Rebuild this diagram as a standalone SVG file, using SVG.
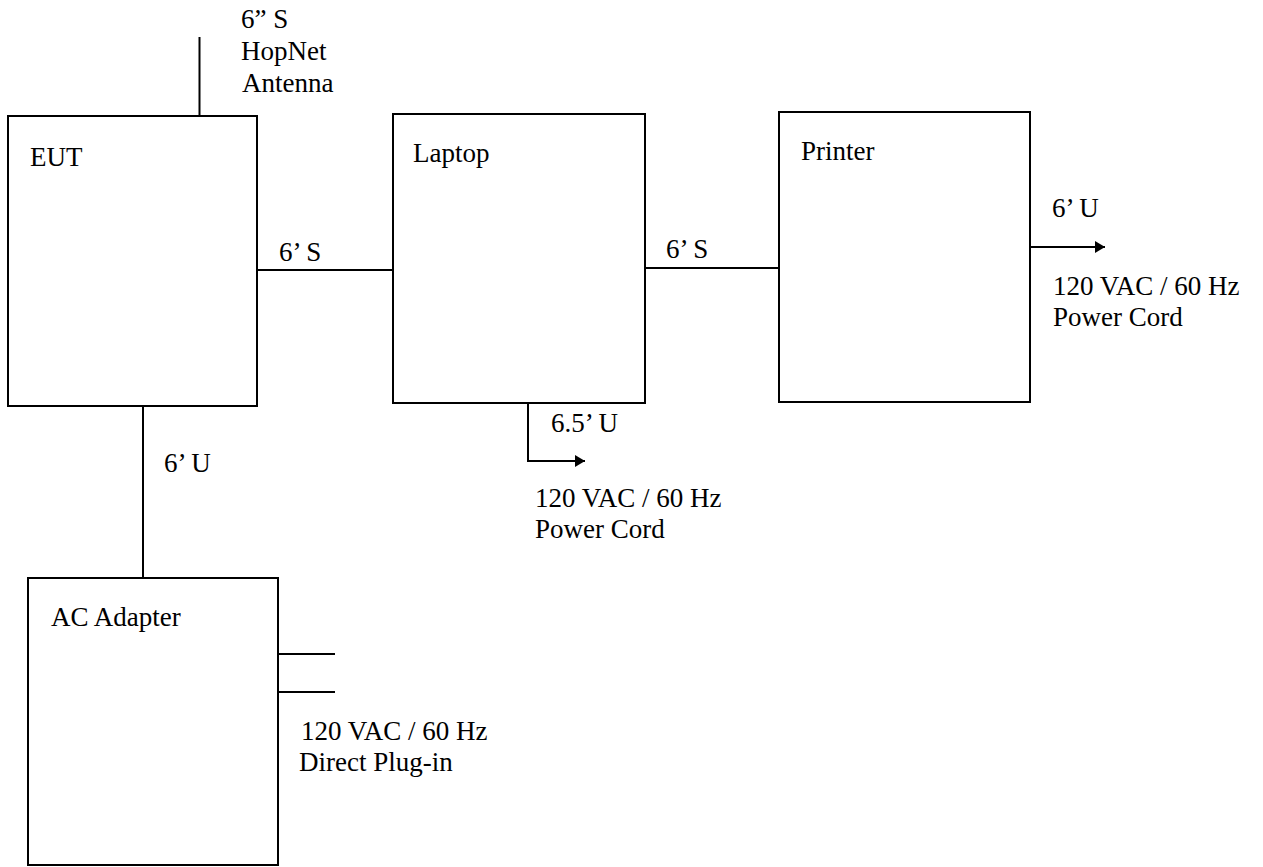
<svg xmlns="http://www.w3.org/2000/svg" width="1263" height="867" viewBox="0 0 1263 867">
<style>
.box{fill:none;stroke:#000;stroke-width:2}
.ln{fill:none;stroke:#000;stroke-width:2}
text{font-family:"Liberation Serif","Times New Roman",serif;font-size:27px;fill:#000}
</style>
<defs>
<marker id="arr" markerUnits="userSpaceOnUse" markerWidth="12" markerHeight="12" refX="10" refY="6" orient="auto">
<path d="M0,0 L10,6 L0,12 Z" fill="#000"/>
</marker>
</defs>
<rect width="1263" height="867" fill="#fff"/>
<g id="connectors">
<line class="ln" x1="199.5" y1="37" x2="199.5" y2="116"/>
<line class="ln" x1="257" y1="270" x2="393" y2="270"/>
<line class="ln" x1="645" y1="268" x2="779" y2="268"/>
<line class="ln" x1="143" y1="406" x2="143" y2="578"/>
<polyline class="ln" points="528,403 528,461 585,461" marker-end="url(#arr)"/>
<line class="ln" x1="1030" y1="247" x2="1105" y2="247" marker-end="url(#arr)"/>
<line class="ln" x1="278" y1="654" x2="335" y2="654"/>
<line class="ln" x1="278" y1="692" x2="335" y2="692"/>
</g>
<g id="antenna-label">
<text x="241" y="28">6” S</text>
<text x="241" y="60">HopNet</text>
<text x="242" y="92">Antenna</text>
</g>
<g id="eut">
<rect class="box" x="8" y="116" width="249" height="290"/>
<text x="30" y="166">EUT</text>
</g>
<g id="laptop">
<rect class="box" x="393" y="114" width="252" height="289"/>
<text x="413" y="162">Laptop</text>
</g>
<g id="printer">
<rect class="box" x="779" y="112" width="251" height="290"/>
<text x="801" y="160">Printer</text>
</g>
<g id="ac-adapter">
<rect class="box" x="28" y="578" width="250" height="287"/>
<text x="51" y="626">AC Adapter</text>
</g>
<g id="labels">
<text x="279" y="261">6’ S</text>
<text x="666" y="258">6’ S</text>
<text x="164" y="472">6’ U</text>
<text x="551" y="432">6.5’ U</text>
<text x="535" y="507">120 VAC / 60 Hz</text>
<text x="535" y="538">Power Cord</text>
<text x="1052" y="217">6’ U</text>
<text x="1053" y="295">120 VAC / 60 Hz</text>
<text x="1053" y="326">Power Cord</text>
<text x="301" y="740">120 VAC / 60 Hz</text>
<text x="299" y="771">Direct Plug-in</text>
</g>
</svg>
